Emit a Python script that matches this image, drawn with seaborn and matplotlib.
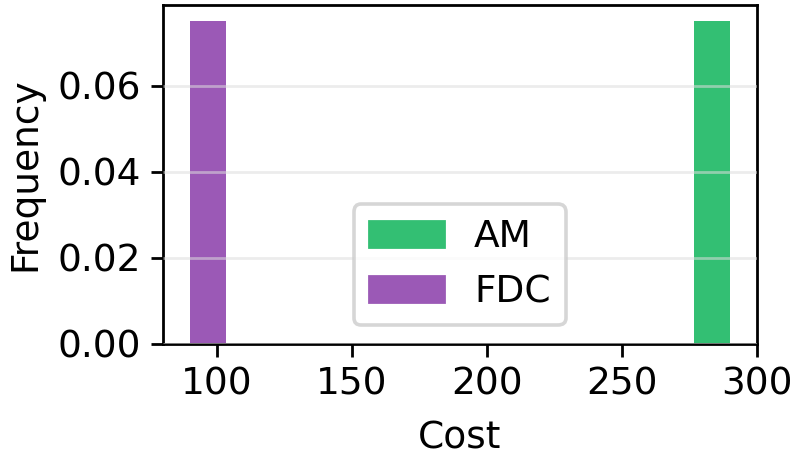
import pandas as pd
import matplotlib.pyplot as plt
import seaborn as sns

# data: one cost value per method
methods = ["AM", "FDC"]
costs = [290, 90]
colors = ["#33bf73", "#9b59b6"]

sns.set_style("ticks")
plt.rcParams['font.family'] = ['DejaVu Sans']
plt.rcParams['text.color'] = 'black'
plt.rcParams['axes.labelcolor'] = 'black'
plt.rcParams['xtick.color'] = 'black'
plt.rcParams['ytick.color'] = 'black'
fs = 13.5

df = pd.DataFrame({"Cost": costs, "Method": methods})

fig, ax = plt.subplots(figsize=(3.97, 2.305), dpi=200)
sns.histplot(data=df, x="Cost", hue="Method", bins=15, stat="density",
             common_norm=False, palette=colors, alpha=1, edgecolor="none",
             element="bars", ax=ax, legend=False)

ax.set_axisbelow(False)
ax.grid(axis="y", color="#dddddd", alpha=0.55, linewidth=1.0)
ax.set_xlabel("Cost", fontsize=fs, labelpad=6.5)
ax.set_ylabel("Frequency", fontsize=fs, labelpad=5)
ax.tick_params(labelsize=fs, length=4.5, width=1.0)
ax.set_yticks([0.0, 0.02, 0.04, 0.06])
for s in ax.spines.values():
    s.set_linewidth(1.0)
    s.set_color("black")

handles = [plt.Rectangle((0, 0), 1, 1, color=c) for c in colors]
leg = ax.legend(handles, methods, loc="lower center", fontsize=fs)
leg.get_frame().set_linewidth(1.3)
leg.get_frame().set_edgecolor("#cccccc")

fig.subplots_adjust(left=0.205, right=0.953, top=0.989, bottom=0.254)
plt.savefig("out.png", dpi=200)
